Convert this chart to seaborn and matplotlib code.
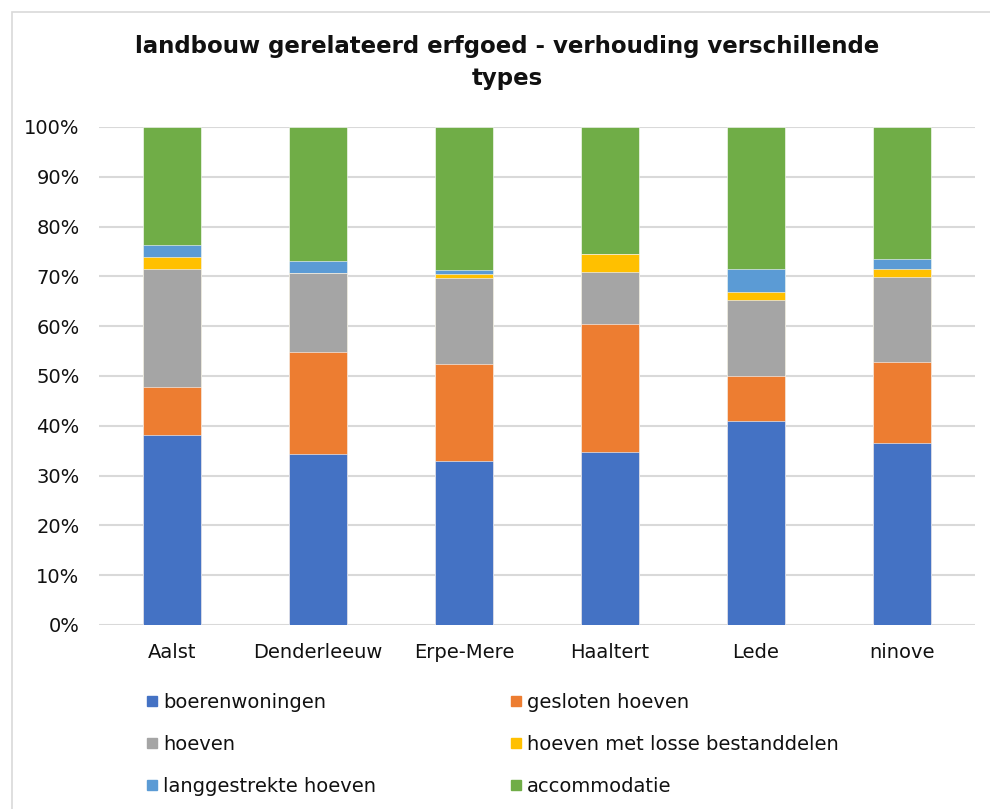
import numpy as np
import pandas as pd
import seaborn as sns
import matplotlib.pyplot as plt
from matplotlib.lines import Line2D
from matplotlib.patches import Rectangle

# data (percent of each municipality)
gemeenten = ['Aalst', 'Denderleeuw', 'Erpe-Mere', 'Haaltert', 'Lede', 'ninove']
boerenwoningen = [38.1, 34.3, 33.0, 34.7, 41.0, 36.5]
gesloten_hoeven = [9.6, 20.5, 19.5, 25.8, 9.1, 16.4]
hoeven = [23.8, 15.9, 17.2, 10.3, 15.2, 17.0]
losse_bestanddelen = [2.3, 0.0, 0.8, 3.6, 1.6, 1.6]
langgestrekte_hoeven = [2.6, 2.3, 0.8, 0.0, 4.5, 1.9]
accommodatie = [23.6, 27.0, 28.7, 25.6, 28.6, 26.6]

types = ['boerenwoningen', 'gesloten hoeven', 'hoeven', 'hoeven met losse bestanddelen',
         'langgestrekte hoeven', 'accommodatie']
colors = ['#4472C4', '#ED7D31', '#A5A5A5', '#FFC000', '#5B9BD5', '#70AD47']

df = pd.DataFrame({
    'gemeente': gemeenten,
    types[0]: boerenwoningen,
    types[1]: gesloten_hoeven,
    types[2]: hoeven,
    types[3]: losse_bestanddelen,
    types[4]: langgestrekte_hoeven,
    types[5]: accommodatie,
})
# normalise to 100% stacked
vals = df[types]
df[types] = vals.div(vals.sum(axis=1), axis=0) * 100
cum = df[types].cumsum(axis=1)

sns.set_theme(style='white')
plt.rcParams['font.family'] = ['DejaVu Sans']

fig = plt.figure(figsize=(9.9, 8.09), dpi=100)
ax = fig.add_axes([99 / 990, 184 / 809, 876 / 990, 498 / 809])

# outer frame like the Excel chart area
fig.patches.append(Rectangle((12 / 990, -0.01), 1.0, 1 - 12 / 809 + 0.01, transform=fig.transFigure,
                             fill=False, edgecolor='#d9d9d9', linewidth=1.2))

# draw cumulative bars from top to bottom so each segment shows
for t, c in reversed(list(zip(types, colors))):
    sns.barplot(x=df['gemeente'], y=cum[t], color=c, width=0.4, ax=ax,
                edgecolor='white', linewidth=0.4, saturation=1, zorder=3)

ax.set_ylim(0, 100)
ax.set_yticks(np.arange(0, 101, 10))
ax.set_yticklabels([f'{v}%' for v in range(0, 101, 10)])
ax.yaxis.grid(True, color='#d9d9d9', linewidth=1.5, zorder=0)
ax.set_axisbelow(True)
ax.set_xlabel('')
ax.set_ylabel('')
for s in ax.spines.values():
    s.set_visible(False)
ax.tick_params(axis='y', length=0, pad=14, labelsize=14, labelcolor='#111111')
ax.tick_params(axis='x', length=0, pad=13, labelsize=14, labelcolor='#111111')

fig.text(507 / 990, 1 - 62 / 809, 'landbouw gerelateerd erfgoed - verhouding verschillende\ntypes',
         ha='center', va='center', fontsize=16.5, fontweight='bold', color='#111111', linespacing=1.5)

handles = [Line2D([], [], marker='s', linestyle='none', markersize=7, color=c) for c in colors]
order = [0, 2, 4, 1, 3, 5]
fig.legend([handles[i] for i in order], [types[i] for i in order], ncol=2,
           loc='upper left', bbox_to_anchor=(129 / 990, 1 - 675 / 809), frameon=False,
           fontsize=14, handlelength=0.6, handletextpad=0.25, columnspacing=6.9,
           labelspacing=1.2, labelcolor='#111111')

fig.savefig('out.png', dpi=100)
